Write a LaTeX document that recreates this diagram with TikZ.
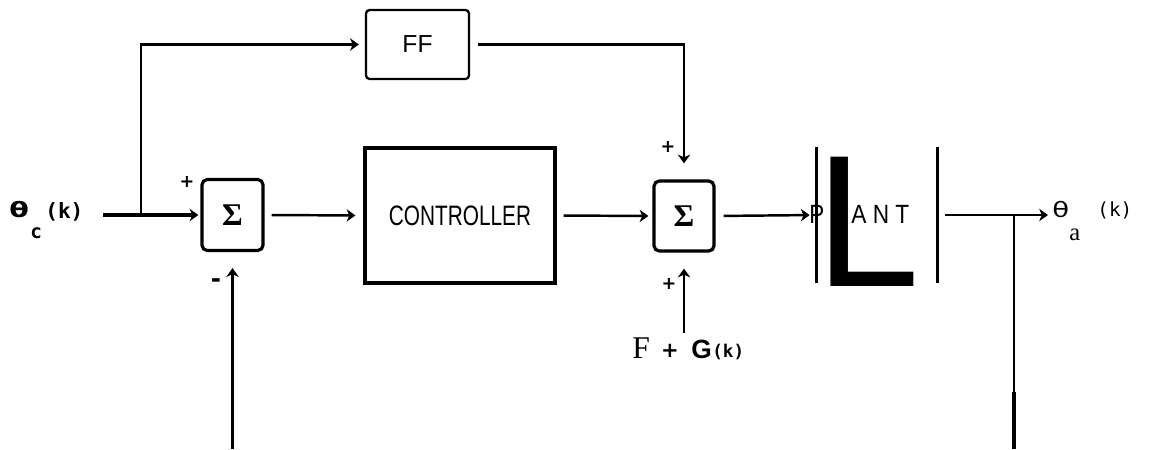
\documentclass[tikz,border=0pt]{standalone}
\usepackage{fontspec}
\setmainfont{Liberation Serif}
\newfontfamily\lsans{Liberation Sans}
\newfontfamily\dvs{DejaVu Sans}
\newfontfamily\dvsm{DejaVu Sans Mono}
\usetikzlibrary{arrows.meta}
\begin{document}
\begin{tikzpicture}[x=0.02cm,y=-0.02cm,
  conn/.style={line width=1.4pt},
  arr/.style={conn,-{Stealth[length=5pt,width=7pt,inset=1.5pt]}},
  sumbox/.style={draw,line width=1.8pt,rounded corners=3pt,minimum width=1.22cm,minimum height=1.42cm,inner sep=0pt,font=\fontsize{18}{18}\bfseries\selectfont},
  blk/.style={draw,line width=1.8pt,inner sep=0pt},
  lbl/.style={inner sep=0pt},
  sgn/.style={inner sep=0pt,font=\dvs\bfseries\fontsize{10}{10}\selectfont}
]
\useasboundingbox (0,0) rectangle (1151,449);

% blocks
\node[sumbox] (sum1) at (232.5,215) {Σ};
\node[sumbox,minimum width=1.2cm,minimum height=1.4cm] (sum2) at (684,216) {Σ};
\node[blk,line width=1.3pt,rounded corners=2pt,minimum width=2.06cm,minimum height=1.38cm,font=\lsans\fontsize{14}{14}\selectfont] (ff) at (417.5,44.5) {FF};
\node[blk,minimum width=3.8cm,minimum height=2.7cm,font=\lsans\fontsize{16}{16}\selectfont] (ctrl) at (460,215.5) {\scalebox{0.74}[1]{CONTROLLER}};
\node[inner sep=0pt,minimum width=2.4cm,minimum height=2.72cm] (plant) at (877,215) {};
\draw[line width=1.8pt] (plant.north west) -- (plant.south west);
\draw[line width=1.8pt] (plant.north east) -- (plant.south east);
\node[lbl,anchor=base west,font=\lsans\fontsize{107}{107}\selectfont] (plL) at (815,286) {L};
\node[lbl,anchor=base west,font=\lsans\fontsize{15}{15}\selectfont] (plP) at (809,223) {\scalebox{0.85}[1]{P}};
\node[lbl,anchor=base west,font=\lsans\fontsize{15}{15}\selectfont] (plANT) at (851,223) {\scalebox{0.86}[1]{A N T}};

% coordinates
\coordinate (in) at (103,215);
\coordinate (br1) at (141,215);
\coordinate (fg) at (684,333);
\coordinate (fb) at (232.5,449);
\coordinate (out) at (1048,215);
\coordinate (br2) at (1014,215);
\coordinate (fbm) at (1014,392);
\coordinate (fbr) at (1014,449);

% connectors
\draw[arr,line width=1.8pt,shorten >=0.04cm] (in) -- (sum1.west);
\draw[arr,line width=1.2pt,shorten >=0.12cm] (br1) |- (ff.west);
\draw[arr,line width=1.2pt,shorten <=0.16cm,shorten >=0.32cm] (ff.east) -| (sum2.north);
\draw[arr,shorten <=0.14cm,shorten >=0.16cm] (sum1.east) -- (ctrl.west);
\draw[arr,shorten <=0.14cm,shorten >=0.08cm] (ctrl.east) -- (sum2.west);
\draw[arr,shorten <=0.16cm,shorten >=0.14cm] (sum2.east) -- (plant.west);
\draw[arr,shorten <=0.16cm] (plant.east) -- (out);
\draw[arr,shorten >=0.32cm] (fg) -- (sum2.south);
\draw[arr,line width=1.9pt,shorten >=0.32cm] (fb) -- (sum1.south);
\draw[conn] (br2) -- (fbm);
\draw[line width=2pt] (fbm) -- (fbr);

% signs
\node[sgn] (p1) at (187,182) {+};
\node[sgn,font=\dvs\bfseries\fontsize{14}{14}\selectfont] (m1) at (216,283) {-};
\node[sgn] (p2) at (668,147) {+};
\node[sgn] (p3) at (669,284) {+};

% input label
\node[lbl,anchor=base west,font=\dvs\bfseries\fontsize{12}{12}\selectfont] (thc) at (9,217) {\scalebox{1.35}[1]{θ}};
\node[lbl,anchor=base west,font=\dvsm\bfseries\fontsize{11}{11}\selectfont] (thcs) at (30,238) {c};
\node[lbl,anchor=base west,font=\dvsm\bfseries\fontsize{12}{12}\selectfont] (thck) at (45,218) {(k)};

% output label
\node[lbl,anchor=base west,font=\dvs\fontsize{12}{12}\selectfont] (tha) at (1052,217) {\scalebox{1.3}[1]{θ}};
\node[lbl,anchor=base west,font=\fontsize{14}{14}\selectfont] (thas) at (1069,240) {a};
\node[lbl,anchor=base west,font=\dvsm\fontsize{11}{11}\selectfont] (thak) at (1097,216) {(k)};

% disturbance label
\node[lbl,anchor=base west,font=\fontsize{18}{18}\selectfont] (fF) at (632,358) {F};
\node[sgn,font=\dvs\bfseries\fontsize{12}{12}\selectfont] (fp) at (670,351) {+};
\node[lbl,anchor=base west,font=\lsans\bfseries\fontsize{15}{15}\selectfont] (fG) at (691,358) {G};
\node[lbl,anchor=base west,font=\dvsm\bfseries\fontsize{10}{10}\selectfont] (fk) at (712,357) {(k)};
\end{tikzpicture}
\end{document}
